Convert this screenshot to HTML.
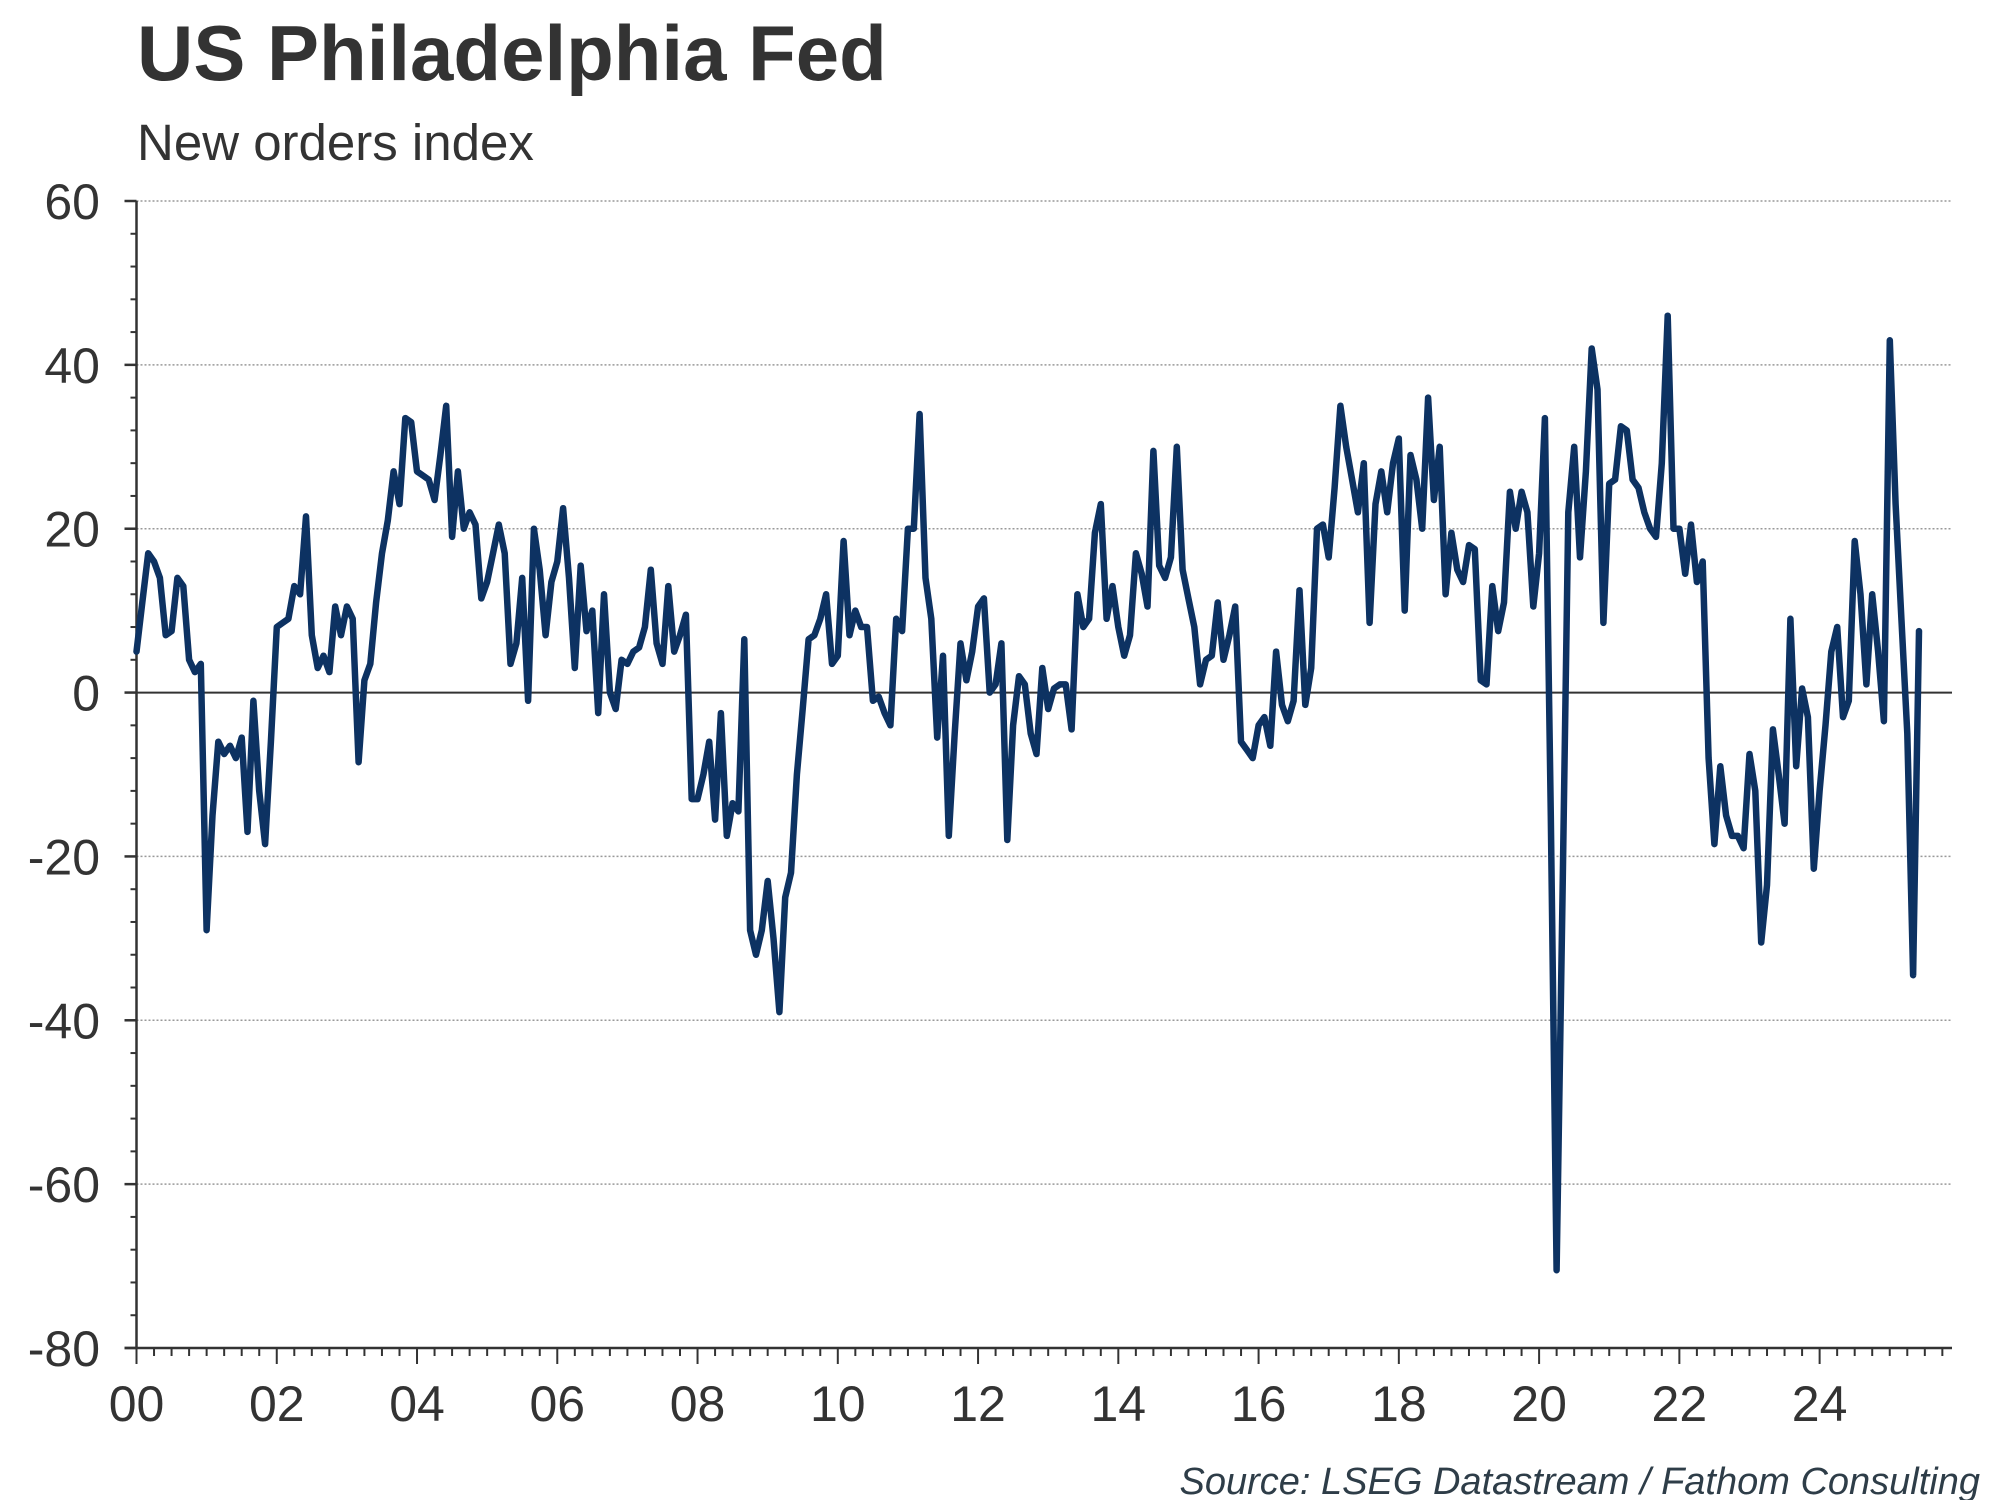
<!DOCTYPE html>
<html><head><meta charset="utf-8"><style>
html,body{margin:0;padding:0;background:#fff;}
svg{display:block;font-family:"Liberation Sans",sans-serif;}
</style></head><body>
<svg id="chart" width="2000" height="1500" viewBox="0 0 2000 1500" xmlns="http://www.w3.org/2000/svg">
<text x="137" y="80" font-size="78" font-weight="bold" fill="#333">US Philadelphia Fed</text>
<text x="137" y="160" font-size="51" fill="#333">New orders index</text>
<g id="grid"></g>
<g id="axes"></g>
<g id="series"></g>
<text x="1980" y="1494" font-size="38" font-style="italic" fill="#2e3d48" text-anchor="end">Source: LSEG Datastream / Fathom Consulting</text>
</svg>
<script>
const yTicks = [60, 40, 20, 0, -20, -40, -60, -80];
const xTickLabels = ["00","02","04","06","08","10","12","14","16","18","20","22","24"];
const startYear = 2000;
const v2000 = [5,11,17,16,14,7,7.5,14,13,4,2.5,3.5];
const v2001 = [-29,-15,-6,-7.5,-6.5,-8,-5.5,-17,-1,-12,-18.5,-6];
const v2002 = [8,8.5,9,13,12,21.5,7,3,4.5,2.5,10.5,7];
const v2003 = [10.5,9,-8.5,1.5,3.5,11,17,21,27,23,33.5,33];
const v2004 = [27,26.5,26,23.5,29,35,19,27,20,22,20.5,11.5];
const v2005 = [13.5,17,20.5,17,3.5,6,14,-1,20,15,7,13.5];
const v2006 = [16,22.5,14,3,15.5,7.5,10,-2.5,12,0,-2,4];
const v2007 = [3.5,5,5.5,8,15,6,3.5,13,5,7,9.5,-13];
const v2008 = [-13,-10,-6,-15.5,-2.5,-17.5,-13.5,-14.5,6.5,-29,-32,-29];
const v2009 = [-23,-30,-39,-25,-22,-10,-2,6.5,7,9,12,3.5];
const v2010 = [4.5,18.5,7,10,8,8,-1,-0.5,-2.5,-4,9,7.5];
const v2011 = [20,20,34,14,9,-5.5,4.5,-17.5,-5,6,1.5,5];
const v2012 = [10.5,11.5,0,1,6,-18,-4,2,1,-5,-7.5,3];
const v2013 = [-2,0.5,1,1,-4.5,12,8,9,19.5,23,9,13];
const v2014 = [8,4.5,7,17,14.5,10.5,29.5,15.5,14,16.5,30,15];
const v2015 = [11.5,8,1,4,4.5,11,4,7,10.5,-6,-7,-8];
const v2016 = [-4,-3,-6.5,5,-1.5,-3.5,-1,12.5,-1.5,3,20,20.5];
const v2017 = [16.5,25,35,30,26,22,28,8.5,23,27,22,28];
const v2018 = [31,10,29,26,20,36,23.5,30,12,19.5,15,13.5];
const v2019 = [18,17.5,1.5,1,13,7.5,11,24.5,20,24.5,22,10.5];
const v2020 = [17,33.5,-15,-70.5,-25,22,30,16.5,27,42,37,8.5];
const v2021 = [25.5,26,32.5,32,26,25,22,20,19,28,46,20];
const v2022 = [20,14.5,20.5,13.5,16,-8,-18.5,-9,-15,-17.5,-17.5,-19];
const v2023 = [-7.5,-12,-30.5,-23.5,-4.5,-10,-16,9,-9,0.5,-3,-21.5];
const v2024 = [-12,-4,5,8,-3,-1,18.5,12,1,12,5,-3.5];
const v2025 = [43,23,9,-5,-34.5,7.5];
const values = [].concat(v2000,v2001,v2002,v2003,v2004,v2005,v2006,v2007,v2008,v2009,v2010,v2011,v2012,v2013,v2014,v2015,v2016,v2017,v2018,v2019,v2020,v2021,v2022,v2023,v2024,v2025);

const NS = "http://www.w3.org/2000/svg";
const X0 = 136.5, PX_YEAR = 70.13, XEND = 1952;
const Y_TOP = 201, Y_BOT = 1348, VMAX = 60, VMIN = -80;
function xScale(t){ return X0 + (t - startYear) * PX_YEAR; }
function yScale(v){ return Y_TOP + (VMAX - v) / (VMAX - VMIN) * (Y_BOT - Y_TOP); }
function mk(tag, attrs, parent){ const e=document.createElementNS(NS,tag); for(const k in attrs) e.setAttribute(k,attrs[k]); parent.appendChild(e); return e; }

const grid = document.getElementById('grid');
const axes = document.getElementById('axes');
const series = document.getElementById('series');

yTicks.forEach(v => {
  const y = yScale(v);
  if (v !== VMIN) {
    const gl = mk('line',{x1:X0,x2:XEND,y1:y,y2:y,stroke:v===0?'#333':'#999','stroke-width':v===0?2:1.5,'stroke-dasharray':v===0?'none':'2,2'},grid);
    
    
  }
  const tk = mk('line',{x1:X0-12,x2:X0,y1:y,y2:y,stroke:'#333','stroke-width':2.5},axes);
  
  
  const lb = mk('text',{x:100,y:y+18,'font-size':50,fill:'#333','text-anchor':'end'},axes);
  lb.textContent = String(v);
  
  
});
for (let v = VMAX; v > VMIN; v -= 4) {
  if (v % 20 === 0) continue;
  const y = yScale(v);
  const mt = mk('line',{x1:X0-6,x2:X0,y1:y,y2:y,stroke:'#333','stroke-width':2},axes);
  
  
}
const ya = mk('line',{x1:X0,x2:X0,y1:Y_TOP,y2:Y_BOT,stroke:'#333','stroke-width':2.5},axes);


const xa = mk('line',{x1:X0-12,x2:XEND,y1:Y_BOT,y2:Y_BOT,stroke:'#333','stroke-width':2.5},axes);



for (let q = 0; q <= 25*4 + 3; q++) {
  const t = startYear + q/4;
  const x = xScale(t);
  if (x > XEND) break;
  const major = (q % 8 === 0);
  const tk = mk('line',{x1:x,x2:x,y1:Y_BOT,y2:Y_BOT+(major?16:8),stroke:'#333','stroke-width':2},axes);
  
  
}
xTickLabels.forEach((lab, i) => {
  const x = xScale(startYear + i*2);
  const t = mk('text',{x:x,y:1421,'font-size':50,fill:'#333','text-anchor':'middle'},axes);
  t.textContent = lab;
  
  
});

const pts = values.map((v,i) => xScale(startYear + i/12).toFixed(1) + ',' + yScale(v).toFixed(1));
const path = mk('polyline',{points:pts.join(' '),fill:'none',stroke:'#0d3262','stroke-width':6.5,'stroke-linejoin':'round','stroke-linecap':'round'},series);


</script>
</body></html>
